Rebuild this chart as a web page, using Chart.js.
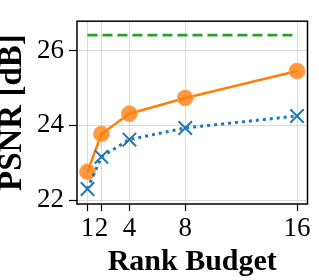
<!DOCTYPE html>
<html>
<head>
<meta charset="utf-8">
<script src="https://cdn.jsdelivr.net/npm/chart.js@4"></script>
<style>
  html, body { margin: 0; padding: 0; background: #fff; }
  #wrap { width: 319px; height: 280px; }
</style>
</head>
<body>
<div id="wrap"><canvas id="myChart"></canvas></div>
<script>
// rank budgets on the x axis
const rankBudgets = [1, 2, 4, 8, 16];
// PSNR values
const orangePsnr = [22.76, 23.77, 24.31, 24.73, 25.45];
const bluePsnr = [22.30, 23.16, 23.62, 23.93, 24.25];
const greenRanks = [1, 16];
const greenPsnr = [26.41, 26.41];
const yTicks = [22, 24, 26];

const serif = "'Liberation Serif', 'Times New Roman', serif";

function toPoints(xs, ys) {
    return xs.map((x, i) => ({ x: x, y: ys[i] }));
}

// draws the box around the plot area like matplotlib spines
const frame = {
    id: "frame",
    afterDraw(chart) {
        const a = chart.chartArea;
        const ctx = chart.ctx;
        ctx.save();
        ctx.strokeStyle = "#000";
        ctx.lineWidth = 1.5;
        ctx.strokeRect(a.left, a.top, a.right - a.left, a.bottom - a.top);
        ctx.restore();
    }
};

const ctx = document.getElementById("myChart").getContext("2d");
const myChart = new Chart(ctx, {
    type: "line",
    data: {
        datasets: [
            {
                label: "green",
                data: toPoints(greenRanks, greenPsnr),
                borderColor: "#2ca02c",
                borderWidth: 2.7,
                borderDash: [10, 5],
                pointRadius: 0,
                fill: false
            },
            {
                label: "blue",
                data: toPoints(rankBudgets, bluePsnr),
                borderColor: "#1f77b4",
                borderWidth: 3,
                borderDash: [3, 4],
                pointStyle: "crossRot",
                pointRadius: 9.5,
                pointBorderWidth: 2,
                pointBorderColor: "#1f77b4",
                fill: false
            },
            {
                label: "orange",
                data: toPoints(rankBudgets, orangePsnr),
                borderColor: "#ff7f0e",
                borderWidth: 2.5,
                pointRadius: 8,
                pointBackgroundColor: "rgba(255,127,14,0.8)",
                pointBorderColor: "rgba(255,170,100,0.9)",
                pointBorderWidth: 1,
                fill: false
            }
        ]
    },
    options: {
        responsive: true,
        maintainAspectRatio: false,
        animation: false,
        layout: { padding: { top: 2, right: 5, left: 0, bottom: 0 } },
        plugins: {
            legend: { display: false },
            tooltip: { enabled: false }
        },
        scales: {
            x: {
                type: "linear",
                min: 0.25,
                max: 16.75,
                afterBuildTicks: axis => { axis.ticks = rankBudgets.map(v => ({ value: v })); },
                afterFit: axis => { axis.height = 76; },
                ticks: {
                    color: "#000",
                    font: { family: serif, size: 27 },
                    padding: 2,
                    maxRotation: 0,
                    autoSkip: false
                },
                grid: {
                    color: "#d0d0d0",
                    lineWidth: 0.8,
                    borderDash: [3, 3],
                    tickColor: "#000",
                    tickBorderDash: [],
                    tickLength: 7,
                    tickWidth: 1.2
                },
                border: { display: false },
                title: {
                    display: true,
                    text: "Rank Budget",
                    color: "#000",
                    font: { family: serif, size: 30, weight: "bold", lineHeight: 1 },
                    padding: { top: 0, bottom: 3 }
                }
            },
            y: {
                min: 21.9,
                max: 26.78,
                afterBuildTicks: axis => { axis.ticks = yTicks.map(v => ({ value: v })); },
                afterFit: axis => { axis.width = 77; },
                ticks: {
                    color: "#000",
                    font: { family: serif, size: 27 },
                    padding: 5
                },
                grid: {
                    color: "#d0d0d0",
                    lineWidth: 0.8,
                    borderDash: [3, 3],
                    tickColor: "#000",
                    tickBorderDash: [],
                    tickLength: 8,
                    tickWidth: 1.2
                },
                border: { display: false },
                title: {
                    display: true,
                    text: "PSNR [dB]",
                    color: "#000",
                    font: { family: serif, size: 33, weight: "bold", lineHeight: 0.75 },
                    padding: 0
                }
            }
        }
    },
    plugins: [frame]
});
</script>
</body>
</html>
